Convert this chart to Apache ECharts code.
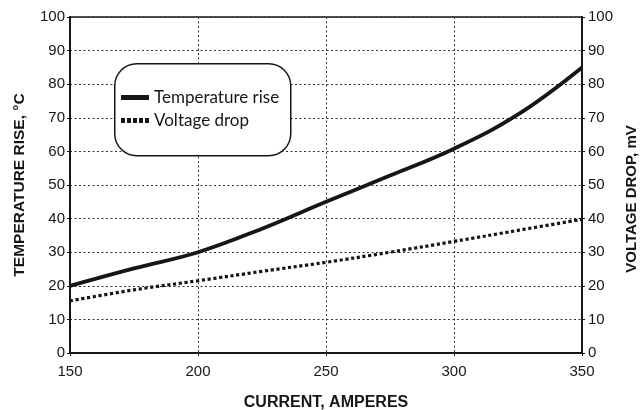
<!DOCTYPE html>
<html>
<head>
<meta charset="utf-8">
<script src="https://cdn.jsdelivr.net/npm/echarts@6/dist/echarts.min.js"></script>
<style>html,body{margin:0;padding:0;background:#fff}#c{width:642px;height:410px}</style>
</head>
<body>
<div id="c"></div>
<script>
const current = [150, 175, 200, 225, 250, 275, 300, 325, 350];
const temperatureRise = [20, 25.2, 30, 37, 45, 52.8, 60.8, 71, 85];
const voltageDrop = [15.5, 18.8, 21.5, 24.3, 27, 30, 33.2, 36.5, 39.8];
const yTicks = [0, 10, 20, 30, 40, 50, 60, 70, 80, 90, 100];
const seriesNames = ['Temperature rise', 'Voltage drop'];

const ink = '#161616';
const chart = echarts.init(document.getElementById('c'), null, {renderer: 'canvas'});
const gridLine = {show: true, lineStyle: {color: '#333', width: 1, type: [2, 2.5]}};
const tickFont = {color: ink, fontFamily: 'Liberation Sans, Arial, sans-serif', fontSize: 15};
const titleFont = {color: ink, fontFamily: 'Liberation Sans, Arial, sans-serif', fontSize: 15.5, fontWeight: 'bold'};
const dotIcon = 'path://M0,0h4v5h-4z M6,0h4v5h-4z M12,0h4v5h-4z M18,0h4v5h-4z M24,0h4v5h-4z';

chart.setOption({
  animation: false,
  backgroundColor: '#fff',
  grid: {left: 70, right: 60, top: 17, bottom: 57, outerBoundsMode: 'none', containLabel: false,
         show: true, borderColor: ink, borderWidth: 1.5, backgroundColor: 'transparent'},
  graphic: [{
    type: 'rect', left: 114, top: 63, z: 10,
    shape: {width: 176, height: 92, r: 22},
    style: {fill: '#fff', stroke: ink, lineWidth: 1.5}
  }],
  legend: {
    orient: 'vertical', left: 114, top: 63, z: 20,
    padding: [26, 8, 26, 7],
    itemWidth: 28, itemHeight: 5, itemGap: 6,
    itemStyle: {borderWidth: 0},
    textStyle: {color: ink, fontFamily: 'Lato, Open Sans, sans-serif', fontSize: 17},
    data: [{name: seriesNames[0], icon: 'rect'}, {name: seriesNames[1], icon: dotIcon}]
  },
  xAxis: {
    type: 'value', min: current[0], max: current[current.length - 1], interval: 50,
    name: 'CURRENT, AMPERES', nameLocation: 'middle', nameGap: 42,
    nameTextStyle: Object.assign({}, titleFont, {fontSize: 16}),
    axisLine: {show: true, lineStyle: {color: ink, width: 2}},
    axisTick: {show: true, length: 3, lineStyle: {color: ink}},
    axisLabel: Object.assign({margin: 11}, tickFont),
    splitLine: gridLine
  },
  yAxis: [{
    type: 'value', min: yTicks[0], max: yTicks[yTicks.length - 1], interval: 10,
    name: 'TEMPERATURE RISE, °C', nameLocation: 'middle', nameGap: 42, nameRotate: 90, nameTextStyle: titleFont,
    axisLine: {show: true, lineStyle: {color: ink, width: 2}},
    axisTick: {show: true, length: 3, lineStyle: {color: ink}},
    axisLabel: Object.assign({margin: 5}, tickFont),
    splitLine: gridLine
  }, {
    type: 'value', min: yTicks[0], max: yTicks[yTicks.length - 1], interval: 10, position: 'right',
    name: 'VOLTAGE DROP, mV', nameLocation: 'middle', nameGap: 40, nameRotate: 90,
    nameTextStyle: Object.assign({}, titleFont, {fontSize: 15, padding: [0, 28, 0, 0]}),
    axisLine: {show: true, lineStyle: {color: ink, width: 2}},
    axisTick: {show: true, length: 3, lineStyle: {color: ink}},
    axisLabel: Object.assign({margin: 6}, tickFont),
    splitLine: {show: false}
  }],
  series: [{
    name: seriesNames[0], type: 'line', yAxisIndex: 0, smooth: 0.4, symbol: 'none',
    data: current.map((c, i) => [c, temperatureRise[i]]),
    lineStyle: {color: ink, width: 3.8}, itemStyle: {color: ink}, z: 5
  }, {
    name: seriesNames[1], type: 'line', yAxisIndex: 1, smooth: 0.4, symbol: 'none',
    data: current.map((c, i) => [c, voltageDrop[i]]),
    lineStyle: {color: ink, width: 3.2, type: [3.2, 2.6], cap: 'butt'}, itemStyle: {color: ink}, z: 5
  }]
});
</script>
</body>
</html>
